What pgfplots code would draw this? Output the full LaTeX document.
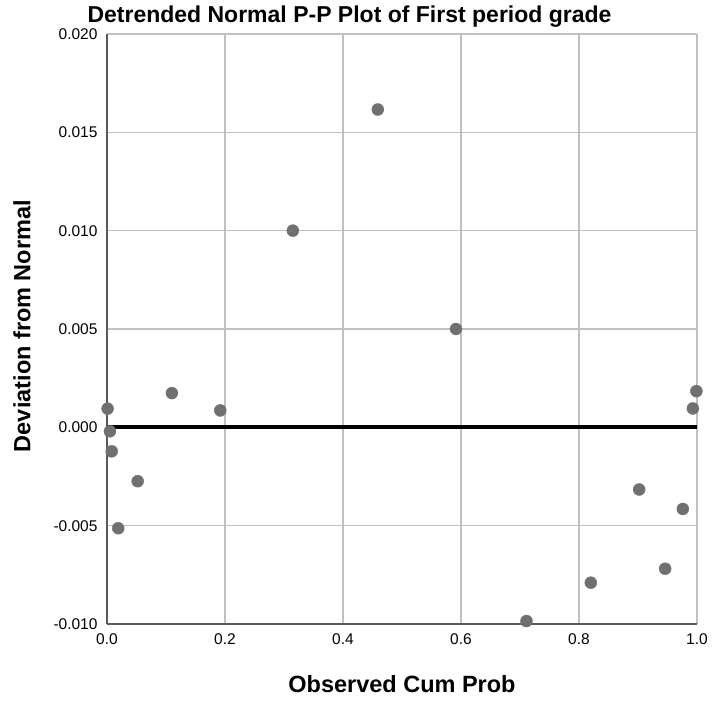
\documentclass[border=0pt]{standalone}
\usepackage{fontspec}
\setmainfont{Liberation Sans}
\usepackage{pgfplots}
\pgfplotsset{compat=1.18}
\definecolor{dotgray}{HTML}{707070}
\definecolor{gridgray}{HTML}{C0C0C0}
\definecolor{framegray}{HTML}{5A5A5A}

\begin{document}
\begin{tikzpicture}
\path[use as bounding box] (0,0) rectangle (712bp,702bp);
\begin{axis}[
  at={(107bp,78bp)}, anchor=south west,
  scale only axis, width=590bp, height=590bp,
  xmin=0, xmax=1, ymin=-0.010, ymax=0.020,
  xtick={0,0.2,...,1.0},
  ytick={-0.010,-0.005,0,0.005,0.010,0.015,0.020},
  grid=major,
  major grid style={gridgray, line width=1.1bp},
  axis x line*=bottom, axis y line*=left,
  axis line style={framegray, line width=1.1bp, -},
  major tick length=0pt,
  tick label style={font=\fontsize{15.5bp}{18bp}\selectfont},
  /pgf/number format/assume math mode=true,
  x tick label style={yshift=-6bp, /pgf/number format/.cd, fixed, fixed zerofill, precision=1},
  y tick label style={xshift=-6bp, /pgf/number format/.cd, fixed, fixed zerofill, precision=3},
  scaled y ticks=false,
  xlabel={\textbf{Observed Cum Prob}},
  ylabel={\textbf{Deviation from Normal}},
  label style={font=\fontsize{23.5bp}{27bp}\selectfont},
  xlabel style={at={(axis description cs:0.5,-0.1017)}, anchor=center},
  ylabel style={at={(axis description cs:-0.144,0.505)}, anchor=center},
]
\addplot[black, line width=4bp] coordinates {(0,0) (1,0)};
\addplot[only marks, mark=*, mark size=6bp, mark options={draw=dotgray, fill=dotgray}]
  coordinates {
  (0.001,0.00095) (0.005,-0.0002) (0.008,-0.00122) (0.019,-0.00513)
  (0.052,-0.00274) (0.110,0.00174) (0.192,0.00086) (0.315,0.0100)
  (0.459,0.01616) (0.5915,0.0050) (0.711,-0.00985) (0.820,-0.0079)
  (0.902,-0.00316) (0.946,-0.00719) (0.976,-0.00415) (0.993,0.00096)
  (0.999,0.00184)
  };
\end{axis}
\node[font=\bfseries\fontsize{23bp}{27bp}\selectfont, anchor=base] at (349.5bp,679bp) {Detrended Normal P-P Plot of First period grade};
\end{tikzpicture}
\end{document}
